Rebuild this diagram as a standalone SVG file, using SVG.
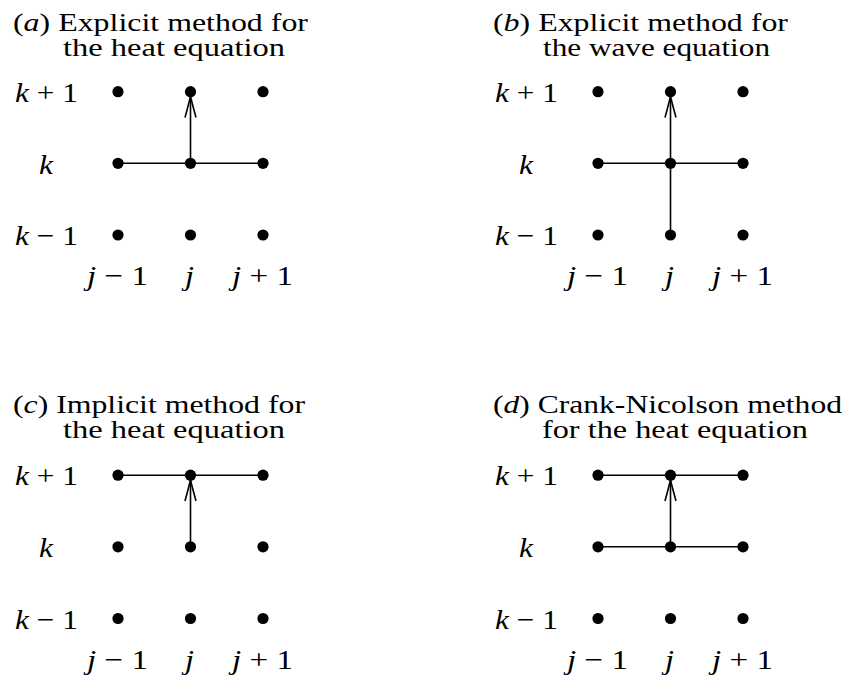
<svg xmlns="http://www.w3.org/2000/svg" width="846" height="679" viewBox="0 0 846 679">
<style>
  .t { font-family: "Liberation Serif", "Times New Roman", serif; font-size: 24.5px; fill: #000; }
  .m { font-family: "Liberation Serif", "Times New Roman", serif; font-size: 28px; fill: #000; }
  .i { font-style: italic; }
  .dot { fill: #000; }
  .ln { stroke: #000; stroke-width: 1.6; fill: none; }
</style>
<defs>
  <marker id="arr" markerUnits="userSpaceOnUse" markerWidth="24" markerHeight="14" refX="21" refY="6" orient="auto" overflow="visible">
    <path d="M0,0.5 Q14,4.3 21,6 Q14,7.7 0,11.5" fill="none" stroke="#000" stroke-width="1.6"/>
  </marker>
  <g id="labels">
    <text class="m" x="15" y="101.5" textLength="63" lengthAdjust="spacingAndGlyphs"><tspan class="i">k</tspan> + 1</text>
    <text class="m" x="39" y="173.5" textLength="14" lengthAdjust="spacingAndGlyphs"><tspan class="i">k</tspan></text>
    <text class="m" x="15" y="245" textLength="63" lengthAdjust="spacingAndGlyphs"><tspan class="i">k</tspan> − 1</text>
    <text class="m" x="87" y="285" textLength="61" lengthAdjust="spacingAndGlyphs"><tspan class="i">j</tspan> − 1</text>
    <text class="m" x="185" y="285" textLength="9" lengthAdjust="spacingAndGlyphs"><tspan class="i">j</tspan></text>
    <text class="m" x="232" y="285" textLength="61" lengthAdjust="spacingAndGlyphs"><tspan class="i">j</tspan> + 1</text>
  </g>
</defs>

<!-- Panel (a) -->
<g id="panel-a">
  <text class="t" x="13" y="30.5" textLength="295" lengthAdjust="spacingAndGlyphs">(<tspan class="i">a</tspan>) Explicit method for</text>
  <text class="t" x="63" y="55.5" textLength="222" lengthAdjust="spacingAndGlyphs">the heat equation</text>
  <use href="#labels"/>
  <g id="a-connectors">
    <line class="ln" x1="118" y1="163.3" x2="263" y2="163.3"/>
    <line class="ln" x1="190.5" y1="163.3" x2="190.5" y2="96.5" marker-end="url(#arr)"/>
  </g>
  <g id="a-nodes">
    <g id="a-j1-k1"><circle class="dot" cx="118" cy="91.7" r="5.6"/></g>
    <g id="a-j-k1"><circle class="dot" cx="190.5" cy="91.7" r="5.6"/></g>
    <g id="a-j2-k1"><circle class="dot" cx="263" cy="91.7" r="5.6"/></g>
    <g id="a-j1-k"><circle class="dot" cx="118" cy="163.3" r="5.6"/></g>
    <g id="a-j-k"><circle class="dot" cx="190.5" cy="163.3" r="5.6"/></g>
    <g id="a-j2-k"><circle class="dot" cx="263" cy="163.3" r="5.6"/></g>
    <g id="a-j1-k0"><circle class="dot" cx="118" cy="235" r="5.6"/></g>
    <g id="a-j-k0"><circle class="dot" cx="190.5" cy="235" r="5.6"/></g>
    <g id="a-j2-k0"><circle class="dot" cx="263" cy="235" r="5.6"/></g>
  </g>
</g>

<!-- Panel (b) -->
<g id="panel-b" transform="translate(480,0)">
  <text class="t" x="13" y="30.5" textLength="295" lengthAdjust="spacingAndGlyphs">(<tspan class="i">b</tspan>) Explicit method for</text>
  <text class="t" x="63" y="55.5" textLength="227" lengthAdjust="spacingAndGlyphs">the wave equation</text>
  <use href="#labels"/>
  <g id="b-connectors">
    <line class="ln" x1="118" y1="163.3" x2="263" y2="163.3"/>
    <line class="ln" x1="190.5" y1="235" x2="190.5" y2="96.5" marker-end="url(#arr)"/>
  </g>
  <g id="b-nodes">
    <g id="b-j1-k1"><circle class="dot" cx="118" cy="91.7" r="5.6"/></g>
    <g id="b-j-k1"><circle class="dot" cx="190.5" cy="91.7" r="5.6"/></g>
    <g id="b-j2-k1"><circle class="dot" cx="263" cy="91.7" r="5.6"/></g>
    <g id="b-j1-k"><circle class="dot" cx="118" cy="163.3" r="5.6"/></g>
    <g id="b-j-k"><circle class="dot" cx="190.5" cy="163.3" r="5.6"/></g>
    <g id="b-j2-k"><circle class="dot" cx="263" cy="163.3" r="5.6"/></g>
    <g id="b-j1-k0"><circle class="dot" cx="118" cy="235" r="5.6"/></g>
    <g id="b-j-k0"><circle class="dot" cx="190.5" cy="235" r="5.6"/></g>
    <g id="b-j2-k0"><circle class="dot" cx="263" cy="235" r="5.6"/></g>
  </g>
</g>

<!-- Panel (c) -->
<g id="panel-c" transform="translate(0,383.5)">
  <text class="t" x="13" y="29.5" textLength="292" lengthAdjust="spacingAndGlyphs">(<tspan class="i">c</tspan>) Implicit method for</text>
  <text class="t" x="63" y="54.5" textLength="222" lengthAdjust="spacingAndGlyphs">the heat equation</text>
  <use href="#labels"/>
  <g id="c-connectors">
    <line class="ln" x1="118" y1="91.7" x2="263" y2="91.7"/>
    <line class="ln" x1="190.5" y1="163.3" x2="190.5" y2="96.5" marker-end="url(#arr)"/>
  </g>
  <g id="c-nodes">
    <g id="c-j1-k1"><circle class="dot" cx="118" cy="91.7" r="5.6"/></g>
    <g id="c-j-k1"><circle class="dot" cx="190.5" cy="91.7" r="5.6"/></g>
    <g id="c-j2-k1"><circle class="dot" cx="263" cy="91.7" r="5.6"/></g>
    <g id="c-j1-k"><circle class="dot" cx="118" cy="163.3" r="5.6"/></g>
    <g id="c-j-k"><circle class="dot" cx="190.5" cy="163.3" r="5.6"/></g>
    <g id="c-j2-k"><circle class="dot" cx="263" cy="163.3" r="5.6"/></g>
    <g id="c-j1-k0"><circle class="dot" cx="118" cy="235" r="5.6"/></g>
    <g id="c-j-k0"><circle class="dot" cx="190.5" cy="235" r="5.6"/></g>
    <g id="c-j2-k0"><circle class="dot" cx="263" cy="235" r="5.6"/></g>
  </g>
</g>

<!-- Panel (d) -->
<g id="panel-d" transform="translate(480,383.5)">
  <text class="t" x="13" y="29.5" textLength="349" lengthAdjust="spacingAndGlyphs">(<tspan class="i">d</tspan>) Crank-Nicolson method</text>
  <text class="t" x="62" y="54.5" textLength="266" lengthAdjust="spacingAndGlyphs">for the heat equation</text>
  <use href="#labels"/>
  <g id="d-connectors">
    <line class="ln" x1="118" y1="91.7" x2="263" y2="91.7"/>
    <line class="ln" x1="118" y1="163.3" x2="263" y2="163.3"/>
    <line class="ln" x1="190.5" y1="163.3" x2="190.5" y2="96.5" marker-end="url(#arr)"/>
  </g>
  <g id="d-nodes">
    <g id="d-j1-k1"><circle class="dot" cx="118" cy="91.7" r="5.6"/></g>
    <g id="d-j-k1"><circle class="dot" cx="190.5" cy="91.7" r="5.6"/></g>
    <g id="d-j2-k1"><circle class="dot" cx="263" cy="91.7" r="5.6"/></g>
    <g id="d-j1-k"><circle class="dot" cx="118" cy="163.3" r="5.6"/></g>
    <g id="d-j-k"><circle class="dot" cx="190.5" cy="163.3" r="5.6"/></g>
    <g id="d-j2-k"><circle class="dot" cx="263" cy="163.3" r="5.6"/></g>
    <g id="d-j1-k0"><circle class="dot" cx="118" cy="235" r="5.6"/></g>
    <g id="d-j-k0"><circle class="dot" cx="190.5" cy="235" r="5.6"/></g>
    <g id="d-j2-k0"><circle class="dot" cx="263" cy="235" r="5.6"/></g>
  </g>
</g>
</svg>
